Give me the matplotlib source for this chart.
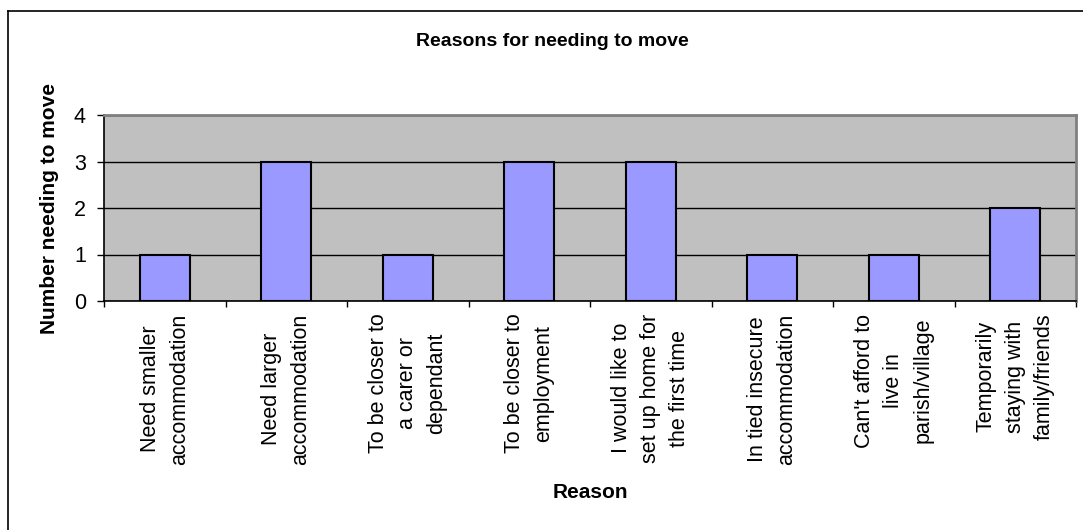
import matplotlib
matplotlib.use("Agg")
import matplotlib.pyplot as plt
from matplotlib.lines import Line2D
from matplotlib.ticker import FixedLocator, NullFormatter

# Chart data
reasons = [
    "Need smaller\naccommodation",
    "Need larger\naccommodation",
    "To be closer to\na carer or\ndependant",
    "To be closer to\nemployment",
    "I would like to\nset up home for\nthe first time",
    "In tied insecure\naccommodation",
    "Can't afford to\nlive in\nparish/village",
    "Temporarily\nstaying with\nfamily/friends",
]
counts = [1, 3, 1, 3, 3, 1, 1, 2]
y_ticks = [0, 1, 2, 3, 4]

plt.rcParams["font.family"] = ["Liberation Sans", "DejaVu Sans"]

W, H = 1083, 530
fig = plt.figure(figsize=(W / 100, H / 100), dpi=100)
fig.patch.set_facecolor("white")

def fx(px):
    return px / W

def fy(py):
    return 1 - py / H

left, right, top, bottom = 104, 1076, 115, 301
ax = fig.add_axes([fx(left), fy(bottom), fx(right) - fx(left), fy(top) - fy(bottom)])
ax.set_facecolor("#C0C0C0")

x = list(range(len(reasons)))
ax.set_axisbelow(True)
ax.yaxis.grid(True, color="black", linewidth=1.0)
ax.bar(x, counts, width=0.41, color="#9999FF", edgecolor="black", linewidth=1.5, zorder=3)

ax.set_xlim(-0.5, len(reasons) - 0.5)
ax.set_ylim(0, 4)
ax.set_yticks(y_ticks)
ax.set_yticklabels([str(v) for v in y_ticks])

# category labels in the middle, tick marks on the boundaries
ax.set_xticks(x)
ax.set_xticklabels(reasons, rotation=90, ha="center", va="top",
                   multialignment="center", linespacing=1.5, fontsize=15.5)
ax.tick_params(axis="x", which="major", length=0, pad=9)
ax.xaxis.set_minor_locator(FixedLocator([i - 0.5 for i in range(len(reasons) + 1)]))
ax.xaxis.set_minor_formatter(NullFormatter())
ax.tick_params(axis="x", which="minor", length=4, width=1, color="black", direction="out")
ax.tick_params(axis="y", length=5, width=1, direction="out", labelsize=15.5, pad=8)

for side in ("top", "right"):
    ax.spines[side].set_color("#808080")
    ax.spines[side].set_linewidth(2)
for side in ("left", "bottom"):
    ax.spines[side].set_color("black")
    ax.spines[side].set_linewidth(1.2)

# titles
fig.text(fx(552), fy(42), "Reasons for needing to move", ha="center", va="center",
         fontsize=14, fontweight="bold")
fig.text(fx(50), fy((top + bottom) / 2), "Number needing to move", ha="center", va="center",
         rotation=90, fontsize=15, fontweight="bold")
fig.text(fx((left + right) / 2), fy(493), "Reason", ha="center", va="center",
         fontsize=15, fontweight="bold")

# chart frame
fig.add_artist(Line2D([fx(8), 1], [fy(11), fy(11)], color="black", linewidth=1.2))
fig.add_artist(Line2D([fx(8), fx(8)], [fy(11), 0], color="black", linewidth=1.2))

fig.savefig("out.png", dpi=100, facecolor="white")
